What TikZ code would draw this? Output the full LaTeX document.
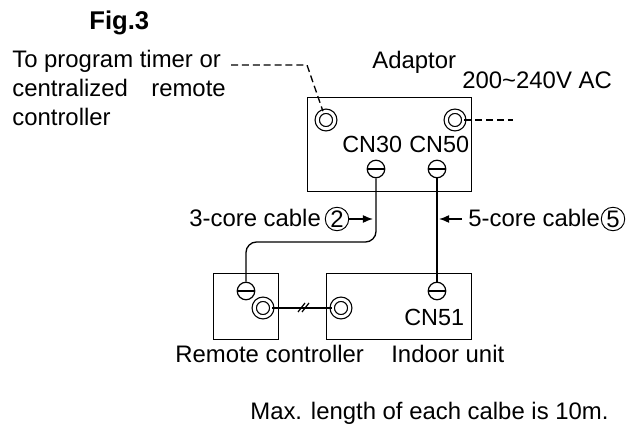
\documentclass[tikz,border=0pt]{standalone}
\usepackage{fontspec}
\usepackage{xcolor}
\setmainfont{Liberation Sans}
\usetikzlibrary{arrows.meta}
\tikzset{
  lbl/.style={anchor=base west, inner sep=0pt, font=\fontsize{13.6}{15}\selectfont},
  cnlbl/.style={lbl, font=\fontsize{13.3}{15}\selectfont},
  unitbox/.style={draw, line width=0.75pt, anchor=north west, inner sep=0pt},
  ring/.style={circle, draw, double, double distance=1.7pt, line width=0.7pt, inner sep=0pt, minimum size=0.35cm},
  screw/.style={circle, draw, line width=0.7pt, inner sep=0pt, minimum size=0.35cm,
    path picture={\draw[line width=0.7pt] (path picture bounding box.west) -- (path picture bounding box.east);}},
  circnum/.style={circle, draw, line width=0.55pt, inner sep=0pt, minimum size=0.47cm, font=\fontsize{13.6}{15}\selectfont},
  wire/.style={line width=0.75pt},
  dashwire/.style={line width=0.75pt, dash pattern=on 4pt off 2.2pt},
  tip/.style={line width=0.75pt, -{Latex[length=5.7pt,width=4.5pt]}}
}
\begin{document}
\begin{tikzpicture}[x=0.02cm, y=-0.02cm]
    \useasboundingbox (0,0) rectangle (626,428);

    % Title
    \node[lbl, font=\fontsize{14.6}{16}\selectfont\bfseries] (figtitle) at (89,30) {Fig.3};

    % Timer text
    \node[lbl] (timerline) at (12,68) {To program timer or};
    \node[lbl] (centralline) at (12,97) {centralized};
    \node[lbl] (remoteword) at (151,97) {remote};
    \node[lbl] (ctrlline) at (12,126) {controller};

    % Boxes
    \node[unitbox, minimum width=3.28cm, minimum height=1.88cm] (adaptor) at (307,97) {};
    \node[unitbox, minimum width=1.30cm, minimum height=1.32cm] (remote) at (213,273) {};
    \node[unitbox, minimum width=2.90cm, minimum height=1.32cm] (indoor) at (326,273) {};

    % Adaptor labels
    \node[lbl] (adaptorlbl) at (372,69) {Adaptor};
    \node[lbl] (powerlbl) at (462,89) {200\char`\~240V AC};
    \node[cnlbl] (cnthirty) at (342,153) {CN30};
    \node[cnlbl] (cnfifty) at (409,153) {CN50};
    \node[cnlbl] (cnfiftyone) at (404,326) {CN51};

    % Terminals
    \node[ring] (ringtimer) at (326,120) {};
    \node[ring] (ringpower) at (455,120) {};
    \node[ring] (ringremote) at (263,308) {};
    \node[ring] (ringindoor) at (341,308) {};
    \node[screw] (screwthirty) at (376,169) {};
    \node[screw] (screwfifty) at (437,169) {};
    \node[screw] (screwremote) at (246,291) {};
    \node[screw] (screwindoor) at (437,291) {};

    % Dashed lines
    \coordinate (bendtimer) at (307,65);
    \coordinate (starttimer) at (231,65);
    \coordinate (endpower) at (513,120);
    \draw[dashwire] (starttimer) -- (bendtimer) -- (ringtimer);
    \draw[dashwire] (ringpower) -- (endpower);

    % Cables
    \draw[wire, rounded corners=6pt] (screwthirty) -- (376,242) -- (246,242) -- (screwremote);
    \draw[wire] (screwfifty) -- (screwindoor);
    \draw[wire] (ringremote) -- (ringindoor);

    % Slash marks
    \draw[line width=0.7pt] (298,312) -- (305,303);
    \draw[line width=0.7pt] (302,312) -- (309,303);

    % Cable labels
    \node[lbl] (threecore) at (189,227) {3-core cable};
    \node[circnum] (circtwo) at (337,219) {2};
    \node[lbl] (fivecore) at (468,227) {5-core cable};
    \node[circnum] (circfive) at (613,219) {5};
    \coordinate (arrowtwo) at (373,219);
    \coordinate (tailfive) at (462,219);
    \coordinate (arrowfive) at (439,219);
    \draw[tip] (circtwo) -- (arrowtwo);
    \draw[tip] (tailfive) -- (arrowfive);

    % Bottom labels
    \node[lbl] (remotelbl) at (175,363) {Remote controller};
    \node[lbl] (indoorlbl) at (391,363) {Indoor unit};
    \node[lbl] (maxlbl) at (250,420) {Max. length of each calbe is 10m.};
\end{tikzpicture}
\end{document}
